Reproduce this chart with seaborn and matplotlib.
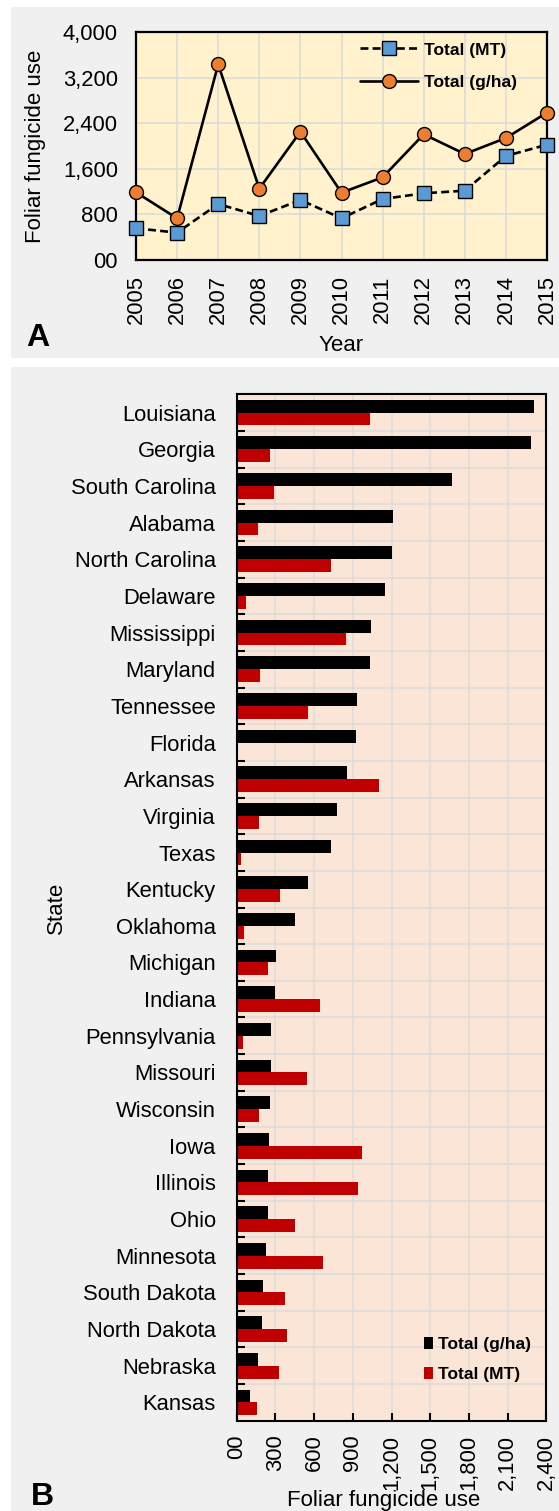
import pandas as pd
import seaborn as sns
import matplotlib.pyplot as plt
import matplotlib.ticker as mticker
from matplotlib.patches import Rectangle

# ---------------- data ----------------
years = [2005, 2006, 2007, 2008, 2009, 2010, 2011, 2012, 2013, 2014, 2015]
total_mt = [556, 480, 982, 772, 1053, 731, 1070, 1170, 1216, 1825, 2023]
total_gha = [1187, 731, 3433, 1251, 2251, 1181, 1450, 2205, 1860, 2140, 2585]
year_yticks = [0, 800, 1600, 2400, 3200, 4000]

states = ["Louisiana", "Georgia", "South Carolina", "Alabama", "North Carolina",
          "Delaware", "Mississippi", "Maryland", "Tennessee", "Florida",
          "Arkansas", "Virginia", "Texas", "Kentucky", "Oklahoma", "Michigan",
          "Indiana", "Pennsylvania", "Missouri", "Wisconsin", "Iowa",
          "Illinois", "Ohio", "Minnesota", "South Dakota", "North Dakota",
          "Nebraska", "Kansas"]
state_gha = [2302, 2284, 1667, 1210, 1202, 1148, 1040, 1032, 932, 924,
             854, 777, 730, 552, 454, 305, 294, 266, 263, 260, 250,
             245, 240, 229, 204, 196, 163, 106]
state_mt = [1037, 258, 292, 165, 728, 75, 849, 183, 550, 3,
            1102, 170, 36, 336, 57, 245, 643, 52, 547, 170, 973,
            940, 449, 668, 372, 387, 328, 157]
state_xticks = [0, 300, 600, 900, 1200, 1500, 1800, 2100, 2400]

W, H = 559, 1511


def box(left, top, right, bottom):
    """pixel box -> figure fraction [l, b, w, h]"""
    return [left / W, 1 - bottom / H, (right - left) / W, (bottom - top) / H]


def fmt_num(x, _pos):
    return "00" if x == 0 else f"{x:,.0f}"


sns.set_style("whitegrid")
plt.rcParams["font.family"] = ["Liberation Sans", "DejaVu Sans"]
plt.rcParams["axes.edgecolor"] = "black"
plt.rcParams["text.color"] = "black"
plt.rcParams["axes.labelcolor"] = "black"
plt.rcParams["xtick.color"] = "black"
plt.rcParams["ytick.color"] = "black"

fig = plt.figure(figsize=(W / 100, H / 100), dpi=100)
fig.patch.set_facecolor("white")

# gray panel backgrounds
for top, bottom in [(7, 358), (367, 1511)]:
    fig.add_artist(Rectangle((11 / W, 1 - bottom / H), (W - 11) / W, (bottom - top) / H,
                             transform=fig.transFigure, facecolor="#f0f0f0",
                             edgecolor="none", zorder=-5))

# ---------------- panel A ----------------
ax1 = fig.add_axes(box(136, 32, 547, 260))
ax1.set_facecolor("#fff2cc")
df_year = pd.DataFrame({"Year": years, "Total (MT)": total_mt, "Total (g/ha)": total_gha})

sns.lineplot(data=df_year, x="Year", y="Total (MT)", ax=ax1, color="black",
             linewidth=1.9, linestyle=(0, (3, 1.6)), marker="s", markersize=10,
             markerfacecolor="#5b9bd5", markeredgecolor="black", markeredgewidth=1,
             label="Total (MT)", clip_on=False, zorder=3)
sns.lineplot(data=df_year, x="Year", y="Total (g/ha)", ax=ax1, color="black",
             linewidth=1.9, marker="o", markersize=10,
             markerfacecolor="#ed7d31", markeredgecolor="black", markeredgewidth=1,
             label="Total (g/ha)", clip_on=False, zorder=3)

ax1.set_xlim(2005, 2015)
ax1.set_ylim(0, 4000)
ax1.set_xticks(years)
ax1.set_yticks(year_yticks)
ax1.yaxis.set_major_formatter(mticker.FuncFormatter(fmt_num))
ax1.tick_params(axis="x", direction="in", length=6, width=1.5, pad=11,
                labelrotation=90, labelsize=15.8, colors="black")
ax1.tick_params(axis="y", length=0, pad=13, labelsize=15.8, colors="black")
ax1.grid(True, color="#dadada", linewidth=1.1)
for s in ax1.spines.values():
    s.set_color("black")
    s.set_linewidth(1.6)
ax1.set_xlabel("Year", fontsize=16)
ax1.set_ylabel("Foliar fungicide use", fontsize=16)
ax1.xaxis.set_label_coords(0.5, -0.329)
ax1.yaxis.set_label_coords(-0.218, 0.5)
h1, l1 = ax1.get_legend_handles_labels()
ax1.legend(h1, l1, loc="upper right", bbox_to_anchor=(0.943, 0.985), frameon=False,
           prop={"weight": "bold", "size": 12.5}, handlelength=3.3,
           handletextpad=0.35, labelspacing=1.0, borderaxespad=0)

fig.text(38 / W, 1 - 338 / H, "A", fontsize=23, fontweight="bold",
         ha="center", va="center")

# ---------------- panel B ----------------
ax2 = fig.add_axes(box(236.7, 394.3, 546.3, 1420.7))
ax2.set_facecolor("#fbe5d6")
df_state = pd.DataFrame({"State": states, "Total (g/ha)": state_gha, "Total (MT)": state_mt})
df_long = df_state.melt(id_vars="State", var_name="Medida", value_name="Valor")

palette = {"Total (g/ha)": "#000000", "Total (MT)": "#c00000"}
sns.barplot(data=df_long, y="State", x="Valor", hue="Medida", order=states,
            hue_order=["Total (g/ha)", "Total (MT)"], palette=palette,
            orient="h", width=0.7, saturation=1, errorbar=None,
            linewidth=0, ax=ax2)

ax2.set_xlim(0, 2400)
ax2.set_ylim(len(states) - 0.5, -0.5)
ax2.set_xticks(state_xticks)
ax2.xaxis.set_major_formatter(mticker.FuncFormatter(fmt_num))
ax2.set_yticks([i + 0.5 for i in range(len(states) - 1)], minor=True)
ax2.set_axisbelow(True)
ax2.grid(False)
ax2.grid(True, axis="x", which="major", color="#dcdcdc", linewidth=1.1)
ax2.grid(True, axis="y", which="minor", color="#dcdcdc", linewidth=1.1)
ax2.tick_params(axis="x", direction="in", length=6, width=1.5, pad=10,
                labelrotation=90, labelsize=15.8, colors="black", bottom=True)
ax2.tick_params(axis="y", which="major", length=0, pad=15, labelsize=15.8,
                colors="black")
ax2.tick_params(axis="y", which="minor", direction="in", length=6, width=1.5,
                left=True, color="black")
for s in ax2.spines.values():
    s.set_color("black")
    s.set_linewidth(1.5)
ax2.set_xlabel("Foliar fungicide use", fontsize=16)
ax2.set_ylabel("State", fontsize=16)
ax2.xaxis.set_label_coords(0.473, -0.0675)
ax2.yaxis.set_label_coords(-0.547, 0.5)

old = ax2.get_legend()
handles = old.legend_handles
labels = [t.get_text() for t in old.get_texts()]
ax2.legend(handles, labels, loc="lower right", bbox_to_anchor=(0.95, 0.038),
           frameon=False, prop={"weight": "bold", "size": 12.5},
           handlelength=0.55, handleheight=0.7, handletextpad=0.25,
           labelspacing=0.85, borderaxespad=0, borderpad=0)

fig.text(42 / W, 1 - 1497 / H, "B", fontsize=23, fontweight="bold",
         ha="center", va="center")

fig.savefig("out.png", dpi=100)
